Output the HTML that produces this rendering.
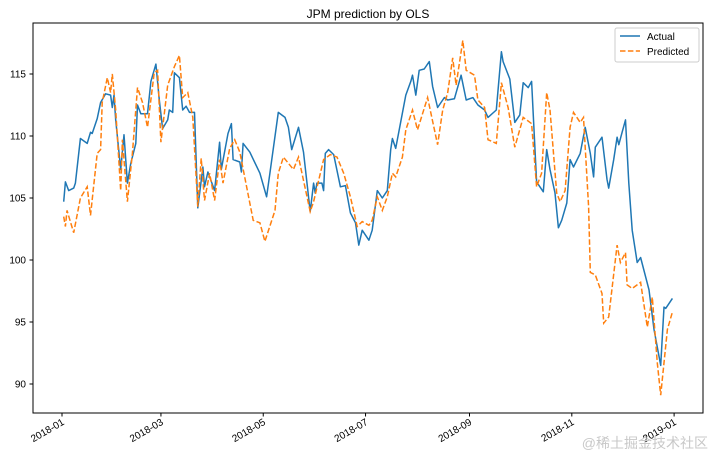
<!DOCTYPE html>
<html><head><meta charset="utf-8"><style>
body{margin:0;background:#fff;}
svg{display:block;font-family:"Liberation Sans","DejaVu Sans",sans-serif;}
</style></head><body>
<svg id="chart" width="713" height="458" viewBox="0 0 713 458">
<rect width="713" height="458" fill="#fff"/>
<text x="368" y="18" text-anchor="middle" font-size="12" fill="#000">JPM prediction by OLS</text>
<g id="yaxis"></g>
<g id="xaxis"></g>
<g id="series"></g>
<rect x="33" y="23" width="670" height="390" fill="none" stroke="#000" stroke-width="1"/>
<g>
<rect x="615" y="28" width="84" height="34" rx="2" fill="#fff" fill-opacity="0.8" stroke="#ccc"/>
<line x1="620" y1="36" x2="640" y2="36" stroke="#1f77b4" stroke-width="1.5"/>
<text x="647" y="40" font-size="10">Actual</text>
<line x1="620" y1="51" x2="640" y2="51" stroke="#ff7f0e" stroke-width="1.5" stroke-dasharray="5.5,2.4"/>
<text x="647" y="55" font-size="10">Predicted</text>
</g>
<text x="708" y="448" text-anchor="end" font-size="14" fill="#c8c8c8" font-family="Liberation Sans, Noto Sans CJK SC, sans-serif">@稀土掘金技术社区</text>
</svg>
<script>
const actualDays=[1,2,4,7,8,11,15,17,18,21,23,26,29,30,31,32,35,37,39,41,44,45,47,51,53,56,58,60,63,64,66,67,70,72,74,76,79,81,84,85,87,91,94,95,99,101,102,106,107,108,112,118,122,124,129,133,135,137,141,144,148,150,151,152,155,156,157,159,162,166,169,172,175,177,179,183,185,188,191,194,196,197,199,205,208,209,211,213,216,219,221,224,227,228,230,234,238,241,245,248,252,254,259,262,263,267,270,273,275,278,280,283,287,289,291,294,296,298,301,303,305,309,312,315,317,318,322,325,326,329,331,332,334,336,338,340,343,345,350,353,357,359,360,364];
const actualValues=[104.7,106.3,105.6,105.8,106.2,109.8,109.4,110.3,110.2,111.4,112.7,113.4,113.3,112.3,113.3,111.3,107.3,110.1,106.2,107.8,109.4,112.5,111.8,111.8,114.4,115.8,112.9,110.6,111.3,112.1,111.9,115.1,114.7,112.1,112.4,111.9,111.9,104.2,107.5,105.9,107.1,105.6,109.5,107.3,110.2,111.0,108.1,107.9,107.1,109.4,108.7,107.0,105.1,107.0,111.9,111.5,110.7,108.9,110.7,108.7,103.9,106.2,105.4,106.2,106.2,105.6,108.6,108.9,108.5,105.9,106.0,103.8,103.0,101.2,102.4,101.6,102.4,105.6,105.0,105.6,108.9,109.8,109.0,113.3,114.4,114.9,113.3,115.3,115.4,116.0,114.0,112.3,112.9,113.1,112.9,113.0,114.9,112.9,113.1,112.5,112.1,111.5,112.1,116.8,116.0,114.6,111.1,111.7,114.3,113.9,114.4,106.3,105.5,108.9,107.3,105.4,102.6,103.2,104.6,108.1,107.5,108.6,110.7,108.6,106.7,109.1,109.9,106.5,105.8,108.1,109.9,109.3,110.3,111.3,106.2,102.4,99.8,100.2,97.6,94.4,91.5,96.2,96.1,96.9];
const predDays=[1,2,3,7,11,15,17,21,23,24,27,29,30,32,35,36,39,42,45,48,51,55,57,59,63,67,70,72,75,78,81,83,85,88,91,94,96,100,103,106,114,118,121,127,129,132,138,141,148,150,156,160,164,168,172,176,179,183,185,188,191,194,197,199,203,205,209,212,218,224,227,230,233,235,239,241,246,248,252,254,259,262,266,270,275,280,283,286,289,291,295,297,300,303,305,309,311,314,315,318,322,323,326,331,333,336,337,340,345,349,352,355,357,361,364];
const predValues=[103.5,102.7,104.0,102.2,105.0,105.9,103.6,108.6,108.9,112.7,114.7,113.5,115.0,112.1,105.6,109.7,104.7,108.6,113.9,112.7,110.7,115.1,115.3,109.5,114.1,115.6,116.5,113.1,113.5,111.5,104.3,108.2,104.8,107.0,104.8,108.1,106.2,109.0,109.7,108.7,103.2,103.0,101.5,104.0,107.0,108.3,107.3,108.3,103.9,104.7,108.1,108.5,108.3,107.0,105.1,102.7,103.1,102.8,103.2,105.1,104.0,105.1,107.0,106.7,108.3,110.5,112.1,110.5,113.1,109.3,112.1,113.5,116.3,114.1,117.7,115.3,114.9,112.9,112.3,109.7,109.4,114.3,112.3,109.1,111.5,111.0,105.9,107.0,113.5,112.1,105.4,104.7,105.6,110.7,111.9,111.1,111.5,104.3,99.0,98.8,97.3,94.9,95.4,101.2,99.8,100.6,98.0,97.7,98.2,94.6,97.0,91.7,89.1,94.4,95.8];
const yTicks=[90,95,100,105,110,115];
const xTickDays=[0,59,120,181,243,304,365];
const xTickLabels=["2018-01","2018-03","2018-05","2018-07","2018-09","2018-11","2019-01"];

const NS="http://www.w3.org/2000/svg";
function xScale(d){return 62+d*1.677;}
function yScale(v){return 74+(115-v)*12.4;}
function mk(tag,attrs,parent){const e=document.createElementNS(NS,tag);for(const k in attrs)e.setAttribute(k,attrs[k]);parent.appendChild(e);return e;}

const yg=document.getElementById('yaxis');
yTicks.forEach(v=>{
  const y=yScale(v);
  const t=mk('line',{x1:29.5,x2:33,y1:y,y2:y,stroke:'#000'},yg);
  
  
  const l=mk('text',{x:26,y:y+3.5,'text-anchor':'end','font-size':'10'},yg);
  l.textContent=v;
  
  
});
const xg=document.getElementById('xaxis');
xTickDays.forEach((d,i)=>{
  const x=xScale(d);
  const t=mk('line',{x1:x,x2:x,y1:413,y2:416.5,stroke:'#000'},xg);
  
  
  const l=mk('text',{x:x+3,y:424,'text-anchor':'end','font-size':'10',transform:'rotate(-30 '+(x+3)+' 424)'},xg);
  l.textContent=xTickLabels[i];
  
  
});
const sg=document.getElementById('series');
function pts(days,vals){return days.map((d,i)=>xScale(d).toFixed(1)+','+yScale(vals[i]).toFixed(1)).join(' ');}
const a=mk('polyline',{points:pts(actualDays,actualValues),fill:'none',stroke:'#1f77b4','stroke-width':1.5,'stroke-linejoin':'round'},sg);


const p=mk('polyline',{points:pts(predDays,predValues),fill:'none',stroke:'#ff7f0e','stroke-width':1.5,'stroke-dasharray':'5.5,2.4'},sg);


</script>
</body></html>
